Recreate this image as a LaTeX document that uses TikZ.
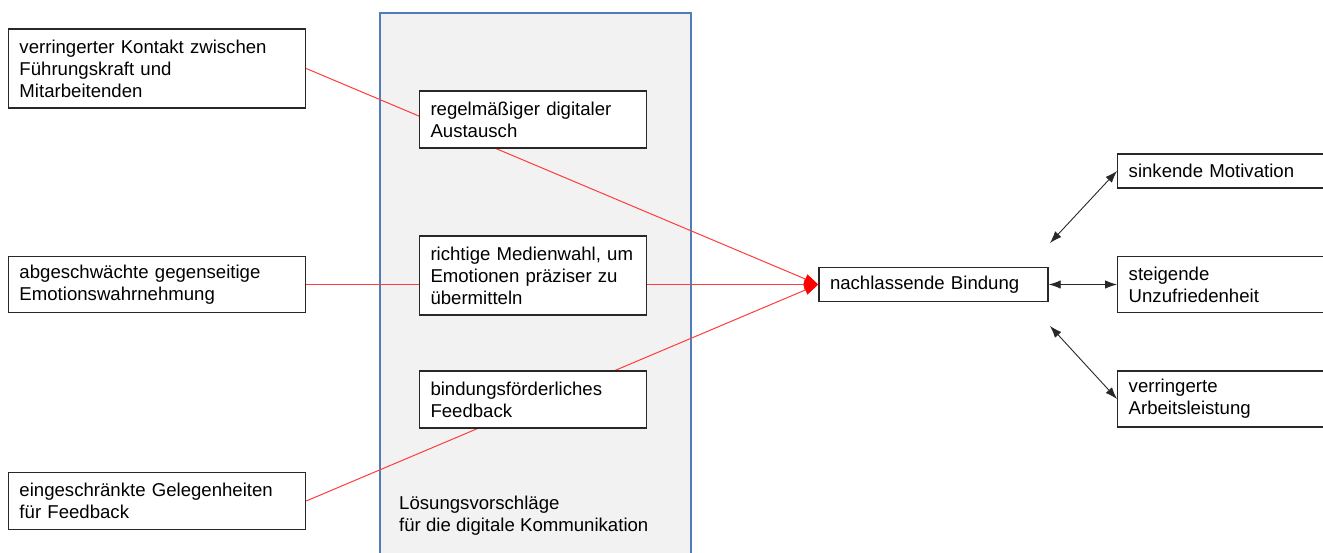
\documentclass[tikz,border=0pt]{standalone}
\usepackage{fontspec}
\setmainfont{Liberation Sans}
\usetikzlibrary{arrows.meta}
\definecolor{boxline}{RGB}{40,40,40}
\definecolor{panelfill}{RGB}{242,242,242}
\definecolor{panelline}{RGB}{80,125,185}
\definecolor{redline}{RGB}{255,60,60}
\definecolor{arrowgray}{RGB}{40,40,40}
\tikzset{
  every node/.style={font=\fontsize{18.6}{22}\selectfont},
  txtbox/.style={draw=boxline, line width=1.4pt, fill=white, align=left,
    inner xsep=11pt, inner ysep=0pt, text width=#1},
  txtbox/.default=200pt,
  redconn/.style={draw=redline, line width=1pt, -{Triangle[length=14pt,width=10pt,fill=red,color=red]}},
  blackconn/.style={draw=arrowgray, line width=0.9pt, {Latex[length=12pt,width=8.5pt]}-{Latex[length=12pt,width=8.5pt]}}
}
\begin{document}
\begin{tikzpicture}[x=1pt,y=-1pt]
\useasboundingbox (0,0) rectangle (1323,553);
\clip (0,0) rectangle (1323,553);
% panel
\node[draw=panelline, fill=panelfill, line width=1.3pt, minimum width=311pt, minimum height=560pt, inner sep=0pt] (panel) at (535.5,293) {};
\node[anchor=west, align=left, inner sep=0pt] (panellabel) at (399,516) {Lösungsvorschläge\\für die digitale Kommunikation};
% left boxes
\node[txtbox=275pt, minimum height=79pt] (L1) at (157,68.5) {verringerter Kontakt zwischen\\Führungskraft und\\Mitarbeitenden};
\node[txtbox=275pt, minimum height=56pt] (L2) at (157,284.5) {abgeschwächte gegenseitige\\Emotionswahrnehmung};
\node[txtbox=275pt, minimum height=57pt] (L3) at (157,501) {eingeschränkte Gelegenheiten\\für Feedback};
% centre
\node[txtbox=207pt, minimum height=34pt] (N) at (933.5,284.5) {nachlassende Bindung};
% right boxes
\node[txtbox=218pt, minimum height=34pt, anchor=west] (R1) at (1117,171) {sinkende Motivation};
\node[txtbox=218pt, minimum height=56pt, anchor=west] (R2) at (1117,284.5) {steigende\\Unzufriedenheit};
\node[txtbox=218pt, minimum height=56pt, anchor=west] (R3) at (1117,399) {verringerte\\Arbeitsleistung};
% red connectors
\draw[redconn] (L1.east) -- (N.west);
\draw[redconn] (L2.east) -- (N.west);
\draw[redconn] (L3.east) -- (N.west);
% middle boxes
\node[txtbox=205pt, minimum height=57pt] (M1) at (533,119.5) {regelmäßiger digitaler\\Austausch};
\node[txtbox=205pt, minimum height=79pt] (M2) at (533,275.5) {richtige Medienwahl, um\\Emotionen präziser zu\\übermitteln};
\node[txtbox=205pt, minimum height=57pt] (M3) at (533,399.5) {bindungsförderliches\\Feedback};
% black double arrows
\coordinate (c1) at (1050,243);
\coordinate (c3) at (1050,326);
\draw[blackconn] (c1) -- (R1.west);
\draw[blackconn] (N.east) -- (R2.west);
\draw[blackconn] (c3) -- (R3.west);
\end{tikzpicture}
\end{document}
